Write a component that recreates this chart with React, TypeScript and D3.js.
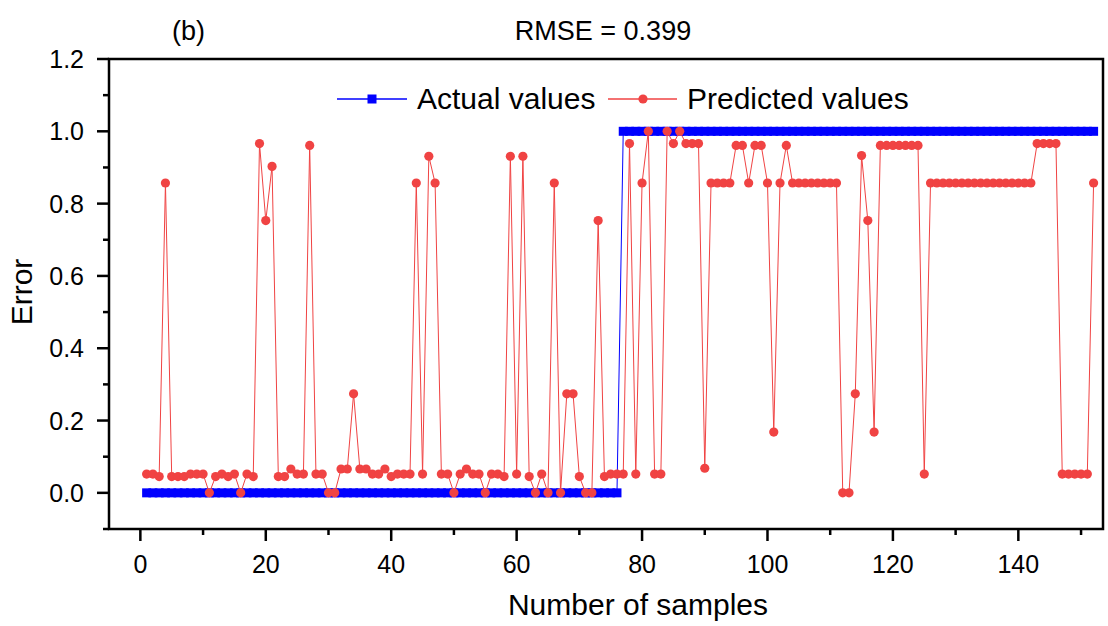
import React from "react";
import * as d3 from "d3";

const predicted: number[] = [
  0.052, 0.052, 0.045, 0.857, 0.045, 0.045, 0.045, 0.052, 0.052, 0.052,
  0, 0.045, 0.052, 0.045, 0.052, 0, 0.052, 0.045, 0.966, 0.753,
  0.903, 0.045, 0.045, 0.066, 0.052, 0.052, 0.961, 0.052, 0.052, 0,
  0, 0.066, 0.066, 0.274, 0.066, 0.066, 0.052, 0.052, 0.066, 0.045,
  0.052, 0.052, 0.052, 0.857, 0.052, 0.931, 0.857, 0.052, 0.052, 0,
  0.052, 0.066, 0.052, 0.052, 0, 0.052, 0.052, 0.045, 0.931, 0.052,
  0.931, 0.045, 0, 0.052, 0, 0.857, 0, 0.274, 0.274, 0.045,
  0, 0, 0.753, 0.045, 0.052, 0.052, 0.052, 0.966, 0.052, 0.857,
  1.0, 0.052, 0.052, 1.0, 0.966, 1.0, 0.966, 0.966, 0.966, 0.068,
  0.857, 0.857, 0.857, 0.857, 0.961, 0.961, 0.857, 0.961, 0.961, 0.857,
  0.168, 0.857, 0.961, 0.857, 0.857, 0.857, 0.857, 0.857, 0.857, 0.857,
  0.857, 0, 0, 0.274, 0.933, 0.753, 0.168, 0.961, 0.961, 0.961,
  0.961, 0.961, 0.961, 0.961, 0.052, 0.857, 0.857, 0.857, 0.857, 0.857,
  0.857, 0.857, 0.857, 0.857, 0.857, 0.857, 0.857, 0.857, 0.857, 0.857,
  0.857, 0.857, 0.966, 0.966, 0.966, 0.966, 0.052, 0.052, 0.052, 0.052,
  0.052, 0.857,
];

const actual: number[] = [
  0, 0, 0, 0, 0, 0, 0, 0, 0, 0, 0, 0, 0, 0, 0, 0, 0, 0, 0, 0,
  0, 0, 0, 0, 0, 0, 0, 0, 0, 0, 0, 0, 0, 0, 0, 0, 0, 0, 0, 0,
  0, 0, 0, 0, 0, 0, 0, 0, 0, 0, 0, 0, 0, 0, 0, 0, 0, 0, 0, 0,
  0, 0, 0, 0, 0, 0, 0, 0, 0, 0, 0, 0, 0, 0, 0, 0,
  1, 1, 1, 1, 1, 1, 1, 1, 1, 1, 1, 1, 1, 1, 1, 1, 1, 1, 1, 1,
  1, 1, 1, 1, 1, 1, 1, 1, 1, 1, 1, 1, 1, 1, 1, 1, 1, 1, 1, 1,
  1, 1, 1, 1, 1, 1, 1, 1, 1, 1, 1, 1, 1, 1, 1, 1, 1, 1, 1, 1,
  1, 1, 1, 1, 1, 1, 1, 1, 1, 1, 1, 1, 1, 1, 1, 1,
];

const samples: number[] = predicted.map((_, i) => i + 1);

const xMajorTicks = [0, 20, 40, 60, 80, 100, 120, 140];
const xMinorTicks = [10, 30, 50, 70, 90, 110, 130, 150];
const yMajorTicks = [0, 0.2, 0.4, 0.6, 0.8, 1.0, 1.2];
const yMinorTicks = [-0.1, 0.1, 0.3, 0.5, 0.7, 0.9, 1.1];

const title = "RMSE = 0.399";
const panelLabel = "(b)";
const xTitle = "Number of samples";
const yTitle = "Error";
const seriesNames = ["Actual values", "Predicted values"];

const W = 1108;
const H = 626;
const L = 109, R = 1103, T = 59, B = 529;
const FONT = "Arial, 'Liberation Sans', Helvetica, sans-serif";
const RED = "#f04343";
const BLUE = "#0000ff";

export default function App() {
  const x = d3.scaleLinear().domain([-5, 153.5]).range([L, R]);
  const y = d3.scaleLinear().domain([-0.1, 1.2]).range([B, T]);

  const lineGen = d3
    .line<number>()
    .x((_, i) => x(samples[i]))
    .y((d) => y(d));

  const fmt = d3.format(".1f");
  const sq = 9;

  return (
    <svg
      width={W}
      height={H}
      style={{ position: "absolute", left: 0, top: 0, display: "block", background: "#fff" }}
      fontFamily={FONT}
    >
      <rect x={0} y={0} width={W} height={H} fill="#fff" />
      {/* titles */}
      <text x={172} y={40} fontSize={27} fill="#000">{panelLabel}</text>
      <text x={603} y={40} fontSize={27} fill="#000" textAnchor="middle">{title}</text>

      {/* actual series */}
      <path d={lineGen(actual) || ""} fill="none" stroke={BLUE} strokeWidth={1} />
      {actual.map((v, i) => (
        <rect
          key={"a" + i}
          x={x(samples[i]) - sq / 2}
          y={y(v) - sq / 2}
          width={sq}
          height={sq}
          fill={BLUE}
        />
      ))}

      {/* predicted series */}
      <path d={lineGen(predicted) || ""} fill="none" stroke={RED} strokeWidth={1} />
      {predicted.map((v, i) => (
        <circle key={"p" + i} cx={x(samples[i])} cy={y(v)} r={4.6} fill={RED} />
      ))}

      {/* frame */}
      <rect x={L} y={T} width={R - L} height={B - T} fill="none" stroke="#000" strokeWidth={2.5} />

      {/* x ticks */}
      {xMajorTicks.map((t) => (
        <g key={"xM" + t}>
          <line x1={x(t)} x2={x(t)} y1={B} y2={B + 12} stroke="#000" strokeWidth={2.5} />
          <text x={x(t)} y={573} fontSize={25} textAnchor="middle" fill="#000">{t}</text>
        </g>
      ))}
      {xMinorTicks.map((t) => (
        <line key={"xm" + t} x1={x(t)} x2={x(t)} y1={B} y2={B + 6} stroke="#000" strokeWidth={2.5} />
      ))}

      {/* y ticks */}
      {yMajorTicks.map((t) => (
        <g key={"yM" + t}>
          <line x1={L - 12} x2={L} y1={y(t)} y2={y(t)} stroke="#000" strokeWidth={2.5} />
          <text x={84} y={y(t) + 9} fontSize={25} textAnchor="end" fill="#000">{fmt(t)}</text>
        </g>
      ))}
      {yMinorTicks.map((t) => (
        <line key={"ym" + t} x1={L - 6} x2={L} y1={y(t)} y2={y(t)} stroke="#000" strokeWidth={2.5} />
      ))}

      {/* axis titles */}
      <text x={638} y={615} fontSize={30} textAnchor="middle" fill="#000">{xTitle}</text>
      <text
        transform={`translate(32, 292) rotate(-90)`}
        fontSize={30}
        textAnchor="middle"
        fill="#000"
      >
        {yTitle}
      </text>

      {/* legend */}
      <line x1={337} x2={407} y1={99} y2={99} stroke={BLUE} strokeWidth={1.5} />
      <rect x={372 - 4.5} y={99 - 4.5} width={9} height={9} fill={BLUE} />
      <text x={417} y={109} fontSize={30} fill="#000">{seriesNames[0]}</text>
      <line x1={608} x2={677} y1={99} y2={99} stroke={RED} strokeWidth={1.5} />
      <circle cx={643} cy={99} r={4.6} fill={RED} />
      <text x={687} y={109} fontSize={30} fill="#000">{seriesNames[1]}</text>
    </svg>
  );
}
